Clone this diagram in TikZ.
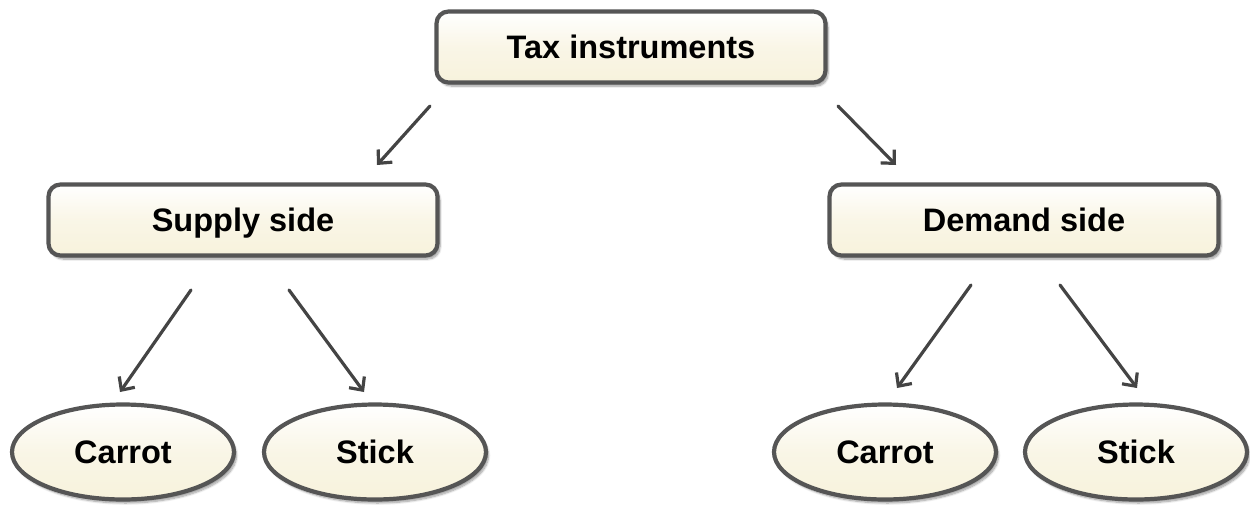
\documentclass[tikz,border=0pt]{standalone}
\usepackage{fontspec}
\setmainfont{Liberation Sans}
\usetikzlibrary{shapes.geometric,shadows.blur,arrows.meta}
\definecolor{cream}{HTML}{F7F2DC}
\definecolor{rim}{HTML}{555555}
\definecolor{arr}{HTML}{444444}
\tikzset{
  common/.style={draw=rim, line width=4.2pt,
    top color=white, bottom color=cream, middle color=cream!70!white,
    inner sep=0pt, text height=23pt, text depth=0pt,
    font=\fontsize{32.5}{36}\selectfont\bfseries,
    blur shadow={shadow xshift=2.5pt, shadow yshift=-3.5pt, shadow blur steps=8, shadow opacity=40}},
  boxnode/.style={common, rectangle, rounded corners=12pt,
    minimum width=389pt, minimum height=71pt},
  ovalnode/.style={common, ellipse, minimum width=222pt, minimum height=95pt},
  arrowline/.style={draw=arr, line width=3.2pt, line cap=round,
    -{Straight Barb[length=10pt,width=19pt,line width=3.2pt]}}
}
\begin{document}
\begin{tikzpicture}[x=1pt,y=-1pt]
\useasboundingbox (0,0) rectangle (1250,507);
\node[boxnode] (tax) at (631,47) {Tax instruments};
\node[boxnode] (supply) at (243,220) {Supply side};
\node[boxnode] (demand) at (1024,220) {Demand side};
\node[ovalnode] (c1) at (123,452) {Carrot};
\node[ovalnode] (s1) at (375,452) {Stick};
\node[ovalnode] (c2) at (885,452) {Carrot};
\node[ovalnode] (s2) at (1136,452) {Stick};
\coordinate (a1s) at (430,106); \coordinate (a1e) at (377,165);
\coordinate (a2s) at (838,106); \coordinate (a2e) at (896,165);
\coordinate (a3s) at (191,290); \coordinate (a3e) at (120,392);
\coordinate (a4s) at (289,290); \coordinate (a4e) at (364,392);
\coordinate (a5s) at (971,285); \coordinate (a5e) at (897,388);
\coordinate (a6s) at (1060,285); \coordinate (a6e) at (1137,388);
\draw[arrowline] (a1s) -- (a1e);
\draw[arrowline] (a2s) -- (a2e);
\draw[arrowline] (a3s) -- (a3e);
\draw[arrowline] (a4s) -- (a4e);
\draw[arrowline] (a5s) -- (a5e);
\draw[arrowline] (a6s) -- (a6e);
\end{tikzpicture}
\end{document}
